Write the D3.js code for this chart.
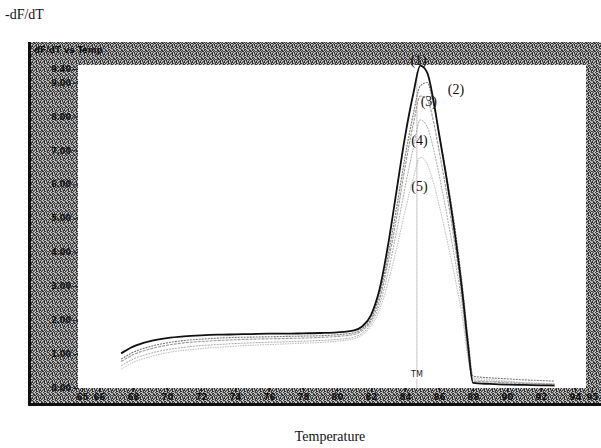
<!DOCTYPE html>
<html>
<head>
<meta charset="utf-8">
<script src="https://cdn.jsdelivr.net/npm/d3@7"></script>
<style>
  body { margin: 0; background: #fff; }
  svg { display: block; }
</style>
</head>
<body>
<script>
var W = 601, H = 448;

// temperatures (deg C) shared by the five melt curves
var temps = [67.3, 68, 69, 70, 71, 72, 73, 74, 75, 76, 77, 78, 79, 80, 81, 81.5, 82, 82.5, 83, 83.5,
  84, 84.5, 84.9, 85.3, 85.7, 86, 86.5, 87, 87.4, 87.7, 88, 89, 90, 91, 92, 92.8];

var curve1 = [1.02, 1.22, 1.38, 1.47, 1.52, 1.55, 1.57, 1.58, 1.59, 1.6, 1.6, 1.61, 1.62, 1.64, 1.7, 1.82, 2.15, 2.9, 4.2, 5.8,
  7.4, 8.7, 9.5, 9.3, 8.4, 7.5, 6.0, 4.3, 2.7, 1.3, 0.15, 0.12, 0.1, 0.09, 0.08, 0.07];
var curve2 = [0.85, 1.05, 1.22, 1.33, 1.4, 1.44, 1.47, 1.49, 1.5, 1.51, 1.52, 1.53, 1.54, 1.57, 1.63, 1.75, 2.05, 2.75, 3.9, 5.3,
  6.8, 8.1, 8.9, 9.0, 8.3, 7.5, 6.1, 4.5, 2.9, 1.5, 0.35, 0.3, 0.27, 0.24, 0.22, 0.2];
var curve3 = [0.78, 0.98, 1.15, 1.26, 1.33, 1.37, 1.4, 1.42, 1.44, 1.45, 1.46, 1.47, 1.49, 1.52, 1.58, 1.7, 1.98, 2.6, 3.7, 5.0,
  6.5, 7.8, 8.6, 8.5, 7.8, 7.0, 5.6, 4.0, 2.5, 1.1, 0.2, 0.18, 0.15, 0.13, 0.12, 0.1];
var curve4 = [0.65, 0.85, 1.02, 1.13, 1.2, 1.25, 1.28, 1.31, 1.33, 1.35, 1.36, 1.38, 1.4, 1.43, 1.5, 1.62, 1.9, 2.45, 3.4, 4.6,
  5.9, 7.1, 7.9, 7.7, 7.0, 6.3, 5.0, 3.6, 2.3, 1.0, 0.25, 0.2, 0.18, 0.15, 0.13, 0.12];
var curve5 = [0.55, 0.75, 0.92, 1.04, 1.11, 1.16, 1.2, 1.23, 1.26, 1.28, 1.3, 1.32, 1.34, 1.38, 1.45, 1.57, 1.82, 2.3, 3.1, 4.1,
  5.2, 6.2, 6.8, 6.6, 6.0, 5.4, 4.3, 3.1, 2.0, 0.9, 0.3, 0.25, 0.2, 0.16, 0.14, 0.12];

var curveNames = ['(1)', '(2)', '(3)', '(4)', '(5)'];
var labelTemps = [84.8, 87.0, 85.4, 84.85, 84.85];
var labelVals = [9.65, 8.8, 8.45, 7.3, 5.95];

var yTicks = [0, 1, 2, 3, 4, 5, 6, 7, 8, 9, 9.4];
var xTicks = [65, 66, 68, 70, 72, 74, 76, 78, 80, 82, 84, 86, 88, 90, 92, 94, 95];
var tm = 84.7;

var frame = {left: 28, top: 42, right: 601, bottom: 406};
var plot = {left: 78, top: 65, right: 586, bottom: 388};

var x = d3.scaleLinear().domain([65, 95]).range([82, 592]);
var y = d3.scaleLinear().domain([0, 9.4]).range([388, 69]);

var svg = d3.select('body').append('svg').attr('width', W).attr('height', H);

// dithered grey texture of the scanned frame
var defs = svg.append('defs');
var pat = defs.append('pattern').attr('id', 'grain')
  .attr('patternUnits', 'userSpaceOnUse').attr('width', 8).attr('height', 8);
pat.append('rect').attr('width', 8).attr('height', 8).attr('fill', '#7a7a7a');
var grainRows = [
  '02102120',
  '20210312',
  '13020201',
  '02301020',
  '20120231',
  '01203102',
  '32020120',
  '10213020'
];
var grainCols = ['#3c3c3c', '#cfcfcf', '#9a9a9a', '#262626'];
grainRows.forEach(function(row, r) {
  row.split('').forEach(function(ch, c) {
    pat.append('rect').attr('x', c).attr('y', r).attr('width', 1).attr('height', 1)
      .attr('fill', grainCols[+ch]);
  });
});

svg.append('rect')
  .attr('x', frame.left).attr('y', frame.top)
  .attr('width', frame.right - frame.left).attr('height', frame.bottom - frame.top)
  .attr('fill', 'url(#grain)');
svg.append('rect').attr('x', frame.left).attr('y', frame.top).attr('width', 3)
  .attr('height', frame.bottom - frame.top).attr('fill', '#111');
svg.append('rect').attr('x', frame.left).attr('y', frame.bottom - 3)
  .attr('width', frame.right - frame.left).attr('height', 3).attr('fill', '#111');

svg.append('rect')
  .attr('x', plot.left).attr('y', plot.top)
  .attr('width', plot.right - plot.left).attr('height', plot.bottom - plot.top)
  .attr('fill', '#fff');

svg.append('text').attr('x', 34).attr('y', 53)
  .style('font-family', 'DejaVu Sans').style('font-size', '8.5px').style('font-weight', 'bold')
  .attr('fill', '#111').text('dF/dT vs Temp');

// y axis (labels in the left band)
var yAxis = d3.axisLeft(y).tickValues(yTicks).tickSize(5).tickPadding(2)
  .tickFormat(d3.format('.2f'));
var gy = svg.append('g').attr('transform', 'translate(' + plot.left + ',0)').call(yAxis);
gy.select('.domain').remove();
gy.selectAll('line').attr('stroke', '#222');
gy.selectAll('text').style('font-family', 'DejaVu Sans').style('font-size', '8px')
  .style('font-weight', 'bold').attr('fill', '#111');

// x axis (labels in the bottom band)
var xAxis = d3.axisBottom(x).tickValues(xTicks).tickSize(4).tickPadding(2)
  .tickFormat(d3.format('d'));
var gx = svg.append('g').attr('transform', 'translate(0,' + plot.bottom + ')').call(xAxis);
gx.select('.domain').remove();
gx.selectAll('line').attr('stroke', '#222');
gx.selectAll('text').style('font-family', 'DejaVu Sans').style('font-size', '8.5px')
  .style('font-weight', 'bold').attr('fill', '#111');

// TM marker
svg.append('line')
  .attr('x1', x(tm)).attr('x2', x(tm)).attr('y1', y(9.3)).attr('y2', y(0.55))
  .attr('stroke', '#888').attr('stroke-width', 1).attr('stroke-dasharray', '1,1');
svg.append('line')
  .attr('x1', x(tm)).attr('x2', x(tm)).attr('y1', y(0.25)).attr('y2', y(0))
  .attr('stroke', '#888').attr('stroke-width', 1).attr('stroke-dasharray', '1,1');
svg.append('text').attr('x', x(tm)).attr('y', y(0.4)).attr('dy', '0.35em')
  .attr('text-anchor', 'middle')
  .style('font-family', 'DejaVu Sans').style('font-size', '8px').attr('fill', '#222').text('TM');

var series = [curve1, curve2, curve3, curve4, curve5];
var strokes = ['#111', '#777', '#999', '#aaa', '#bbb'];
var widths = [1.8, 1.1, 1.1, 1, 1];
var dashes = [null, '2,1', '3,1', '2,1', '1.5,1'];

var line = d3.line()
  .x(function(d, i) { return x(temps[i]); })
  .y(function(d) { return y(d); })
  .curve(d3.curveMonotoneX);

for (var k = series.length - 1; k >= 0; k--) {
  svg.append('path').datum(series[k])
    .attr('d', line)
    .attr('fill', 'none')
    .attr('stroke', strokes[k])
    .attr('stroke-width', widths[k])
    .attr('stroke-dasharray', dashes[k]);
}

svg.selectAll('.clabel').data(curveNames).enter().append('text')
  .attr('class', 'clabel')
  .attr('x', function(d, i) { return x(labelTemps[i]); })
  .attr('y', function(d, i) { return y(labelVals[i]); })
  .attr('dy', '0.35em').attr('text-anchor', 'middle')
  .style('font-family', 'Liberation Serif').style('font-size', '14px')
  .attr('fill', '#111').text(function(d) { return d; });

svg.append('text').attr('x', 5).attr('y', 19)
  .style('font-family', 'Liberation Serif').style('font-size', '14px')
  .attr('fill', '#111').text('-dF/dT');
svg.append('text').attr('x', 330).attr('y', 441).attr('text-anchor', 'middle')
  .style('font-family', 'Liberation Serif').style('font-size', '14px')
  .attr('fill', '#111').text('Temperature');
</script>
</body>
</html>
